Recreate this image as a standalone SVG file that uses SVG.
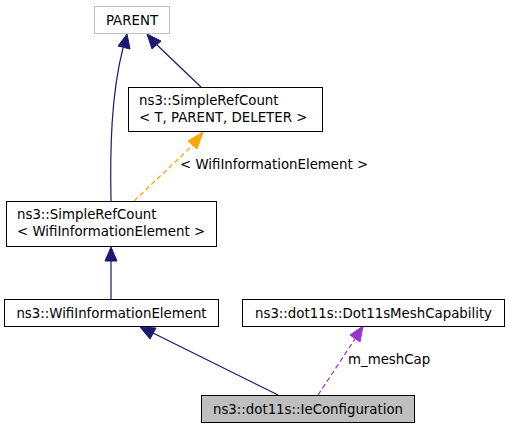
<svg xmlns="http://www.w3.org/2000/svg" width="509" height="429" viewBox="0 0 509 429">
<style>
text{font-family:"DejaVu Sans","Liberation Sans",sans-serif;font-size:13.33px;fill:#000}
.box{fill:#fff;stroke:#000;stroke-width:1}
.m{text-anchor:middle}
.nv{fill:none;stroke:#191970;stroke-width:1.2}
.or{fill:none;stroke:#ffa500;stroke-width:1.2;stroke-dasharray:5,3}
.pu{fill:none;stroke:#9a32cd;stroke-width:1.2;stroke-dasharray:5,3}
</style>
<rect width="509" height="429" fill="#fff"/>
<g id="edges">
<path class="nv" d="M111,201 C110,150 111,95 123,48"/>
<polygon points="127,34 130,49 118,46" fill="#191970" stroke="#191970"/>
<path class="nv" d="M201,87 L157,45"/>
<polygon points="147,34 161,41 152,49" fill="#191970" stroke="#191970"/>
<path class="or" d="M134,201 L193,145"/>
<polygon points="203,132 197,149 188,141" fill="#ffa500" stroke="#ffa500"/>
<text x="180" y="169">&lt; WifiInformationElement &gt;</text>
<path class="nv" d="M111,299 L111,261"/>
<polygon points="111,247 117,261 105,261" fill="#191970" stroke="#191970"/>
<path class="nv" d="M278,395 L153,333"/>
<polygon points="140,327 156,328 150,339" fill="#191970" stroke="#191970"/>
<path class="pu" d="M318,395 L355,339"/>
<polygon points="363,326 360,342 350,335" fill="#9a32cd" stroke="#9a32cd"/>
<text x="348" y="364">m_meshCap</text>
</g>
<g id="parent">
<rect x="94.5" y="6.5" width="75" height="27" fill="#fff" stroke="#bfbfbf"/>
<text class="m" x="132" y="24.5">PARENT</text>
</g>
<g id="simplerefcount_t">
<rect class="box" x="128.5" y="87.5" width="194" height="44"/>
<text x="139" y="104.5">ns3::SimpleRefCount</text>
<text x="139" y="121.5">&lt; T, PARENT, DELETER &gt;</text>
</g>
<g id="simplerefcount_wie">
<rect class="box" x="6.5" y="201.5" width="210" height="45"/>
<text x="17" y="218.5">ns3::SimpleRefCount</text>
<text x="17" y="235.5">&lt; WifiInformationElement &gt;</text>
</g>
<g id="wifiinformationelement">
<rect class="box" x="4.5" y="299.5" width="214" height="27"/>
<text class="m" x="111.5" y="317.5">ns3::WifiInformationElement</text>
</g>
<g id="dot11smeshcapability">
<rect class="box" x="242.5" y="299.5" width="262" height="27"/>
<text class="m" x="373.5" y="317.5">ns3::dot11s::Dot11sMeshCapability</text>
</g>
<g id="ieconfiguration">
<rect x="201.5" y="395.5" width="213" height="27" fill="#bfbfbf" stroke="#000"/>
<text class="m" x="308" y="413.5">ns3::dot11s::IeConfiguration</text>
</g>
</svg>
